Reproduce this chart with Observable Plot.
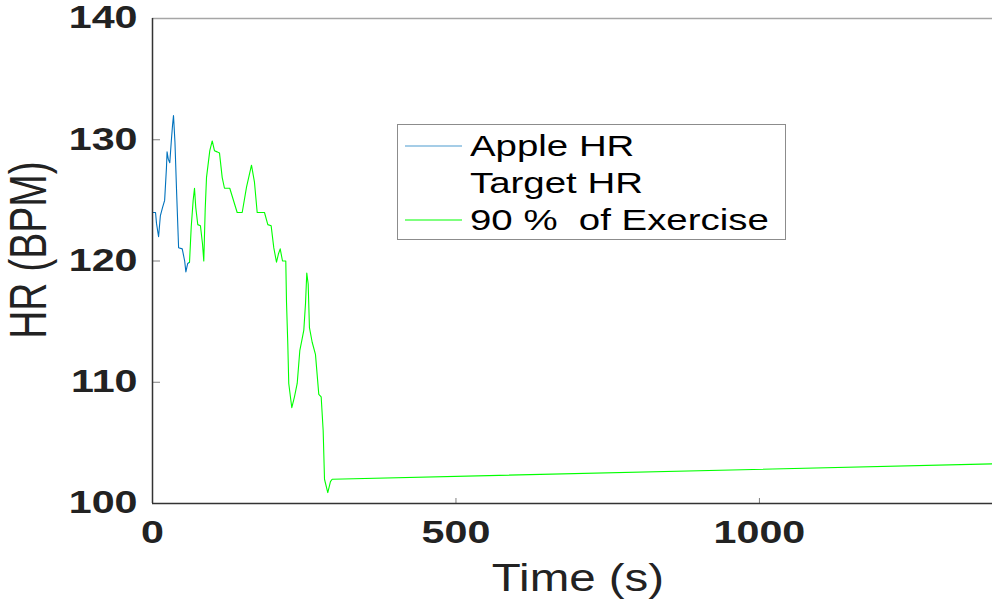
<!DOCTYPE html>
<html>
<head>
<meta charset="utf-8">
<script src="https://cdn.jsdelivr.net/npm/d3@7"></script>
<script src="https://cdn.jsdelivr.net/npm/@observablehq/plot@0.6"></script>
<style>
  html, body { margin: 0; padding: 0; background: #fff; }
  #wrap { position: relative; width: 992px; height: 603px; overflow: hidden; font-family: "Liberation Sans", Arial, sans-serif; }
  #legend { position: absolute; left: 397px; top: 124px; width: 389px; height: 116px; border: 1px solid #8c8c8c; background: #fff; box-sizing: border-box; }
  .lg-row { position: absolute; left: 0; height: 34px; width: 100%; }
  .lg-row svg { position: absolute; left: 7px; top: 0; }
  .lg-row span { position: absolute; left: 72px; top: 0; line-height: 34px; font-size: 30px; color: #000; white-space: pre; transform: scaleX(1.28); transform-origin: 0 50%; }
</style>
</head>
<body>
<div id="wrap"></div>
<script>
// ---- data ----
const appleT  = [0, 5, 6.6, 10, 13, 16.5, 20, 23, 24, 26, 28.5, 31, 33, 34.6, 37, 39.5, 43, 49, 53, 55, 58, 61];
const appleHR = [124, 124, 123.1, 122, 123.75, 124.4, 125, 127.7, 129, 128.4, 128.1, 129.9, 131.2, 132, 129.8, 126, 121.1, 121, 120, 119.1, 119.8, 119.9];

const exT  = [61, 63.8, 67, 69.2, 71.3, 74.6, 79, 82.4, 84.5, 86.8, 89, 94.4, 98.4, 102.1, 106.6, 110.4, 114.8, 118.6, 127.3, 139.5, 147.8, 154.9, 163.1, 168, 172.5, 184.5, 190, 195.5, 199.8, 204.3, 207.6, 210.4, 214.2, 219.6, 220.8, 222.9, 224.5, 229.5, 233.9, 238.4, 242.7, 246.6, 249.3, 252.1, 254.2, 256.5, 258.6, 263.1, 268.5, 274, 277.9, 281.2, 283.4, 288.8, 293.2, 296, 1384];
const exHR = [119.9, 122.8, 125, 126, 124.4, 123, 122.9, 121.4, 120, 124.2, 126.9, 129.1, 129.9, 129.1, 129, 128.9, 126.9, 126, 126, 124, 124, 126.1, 127.9, 126.5, 124, 124, 123, 122.9, 121.1, 119.9, 120.6, 121, 120, 120, 116.6, 113.2, 109.9, 107.9, 108.8, 109.9, 112.6, 113.6, 114.3, 116.5, 119, 118.1, 114.5, 113.3, 112.3, 109, 108.8, 106, 102, 100.9, 101.8, 102, 103.27];

const xDomain = [0, 1384];
const yDomain = [100, 140];
const xTickVals = [0, 500, 1000];
const yTickVals = [100, 110, 120, 130, 140];
const legendLabels = ["Apple HR", "Target HR", "90 %  of Exercise"];
const seriesColors = ["#0072BD", null, "#00FF00"];
const xLabel = "Time (s)";
const yLabel = "HR (BPM)";

const apple = appleT.map((t, i) => ({t, hr: appleHR[i]}));
const exercise = exT.map((t, i) => ({t, hr: exHR[i]}));

// ---- layout ----
const W = 992, H = 603;
const mL = 152, mR = 0, mT = 18, mB = 100;
const plotW = W - mL - mR, plotH = H - mT - mB;
const fmt = d3.format("d");

const chart = Plot.plot({
  width: W,
  height: H,
  marginLeft: mL, marginRight: mR, marginTop: mT, marginBottom: mB,
  style: {fontFamily: "'Liberation Sans', Arial, sans-serif", background: "#fff", overflow: "visible"},
  x: {domain: xDomain},
  y: {domain: yDomain},
  marks: [
    Plot.axisY(yTickVals, {anchor: "left", tickSize: 0, tickPadding: 15, fontSize: 31, fontWeight: "bold", fill: "#222", tickFormat: fmt, label: null}),
    Plot.axisX(xTickVals, {anchor: "bottom", tickSize: 0, tickPadding: 17, fontSize: 31, fontWeight: "bold", fill: "#222", tickFormat: fmt, label: null}),
    Plot.ruleY(yTickVals, {stroke: "#808080", insetRight: plotW - 8}),
    Plot.ruleX(xTickVals, {stroke: "#808080", insetTop: plotH - 5}),
    Plot.ruleY([yDomain[1]], {stroke: "#a6a6a6", strokeWidth: 1.5}),
    Plot.line(apple, {x: "t", y: "hr", stroke: seriesColors[0], strokeWidth: 1.1}),
    Plot.line(exercise, {x: "t", y: "hr", stroke: seriesColors[2], strokeWidth: 1.1}),
    Plot.ruleX([xDomain[0]], {stroke: "#333", strokeWidth: 1.5}),
    Plot.ruleY([yDomain[0]], {stroke: "#333", strokeWidth: 1.5})
  ]
});

const wrap = document.getElementById("wrap");
wrap.appendChild(chart);

// stretch tick labels horizontally like the reference
d3.select(chart).selectAll("g[aria-label$='tick label'] text").each(function() {
  const t = this.getAttribute("transform") || "";
  this.setAttribute("transform", t + " scale(1.33,1)");
});

// axis titles
const svg = d3.select(chart);
svg.append("text")
  .attr("transform", "translate(31,250) scale(1.32,1) rotate(-90)")
  .attr("text-anchor", "middle")
  .attr("dy", "0.3em")
  .attr("font-size", 39)
  .attr("fill", "#222")
  .text(yLabel);
svg.append("text")
  .attr("transform", "translate(578,591) scale(1.25,1)")
  .attr("text-anchor", "middle")
  .attr("font-size", 38)
  .attr("fill", "#222")
  .text(xLabel);

// legend
const legend = document.createElement("div");
legend.id = "legend";
const rowTops = [4, 41, 78];
legendLabels.forEach((lab, i) => {
  const row = document.createElement("div");
  row.className = "lg-row";
  row.style.top = rowTops[i] + "px";
  if (seriesColors[i]) {
    const s = d3.create("svg").attr("width", 58).attr("height", 34);
    s.append("line").attr("x1", 0).attr("x2", 57).attr("y1", 17).attr("y2", 17)
      .attr("stroke", seriesColors[i]).attr("stroke-width", 1.2).attr("opacity", i === 0 ? 0.7 : 1);
    row.appendChild(s.node());
  }
  const sp = document.createElement("span");
  sp.textContent = lab;
  row.appendChild(sp);
  legend.appendChild(row);
});
wrap.appendChild(legend);
</script>
</body>
</html>
